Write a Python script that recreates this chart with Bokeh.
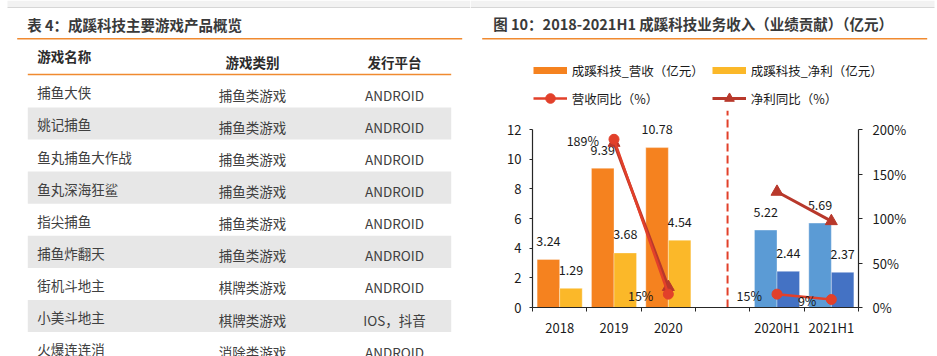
import numpy as np
from bokeh.plotting import figure
from bokeh.models import (Range1d, LinearAxis, FixedTicker, PrintfTickFormatter,
                          Legend, LegendItem)
from bokeh.layouts import row, column
from bokeh.core.properties import value
from bokeh.embed import file_html
from bokeh.resources import INLINE

FONT = "Noto Sans CJK SC"

# ---------------- table data ----------------
table_title = "表 4：成蹊科技主要游戏产品概览"
table_headers = ["游戏名称", "游戏类别", "发行平台"]
game_names = ["捕鱼大侠", "姚记捕鱼", "鱼丸捕鱼大作战", "鱼丸深海狂鲨", "指尖捕鱼",
              "捕鱼炸翻天", "街机斗地主", "小美斗地主", "火爆连连消"]
game_types = ["捕鱼类游戏", "捕鱼类游戏", "捕鱼类游戏", "捕鱼类游戏", "捕鱼类游戏",
              "捕鱼类游戏", "棋牌类游戏", "棋牌类游戏", "消除类游戏"]
game_platforms = ["ANDROID", "ANDROID", "ANDROID", "ANDROID", "ANDROID",
                  "ANDROID", "ANDROID", "IOS，抖音", "ANDROID"]

# ---------------- chart data ----------------
chart_title = "图 10：2018-2021H1 成蹊科技业务收入（业绩贡献）（亿元）"
periods = ["2018", "2019", "2020", "", "2020H1", "2021H1"]
revenue = [3.24, 9.39, 10.78, None, 5.22, 5.69]
net_profit = [1.29, 3.68, 4.54, None, 2.44, 2.37]
revenue_yoy = [None, 189, 15, None, 15, 9]
net_profit_yoy = [None, 185, 23, None, 130, 97]
legend_labels = ["成蹊科技_营收（亿元）", "成蹊科技_净利（亿元）", "营收同比（%）", "净利同比（%）"]
left_ticks = [0, 2, 4, 6, 8, 10, 12]
right_ticks = [0, 50, 100, 150, 200]

# ---------------- styles ----------------
ORANGE = "#F5821F"
YELLOW = "#FBB829"
LBLUE = "#5B9BD5"
DBLUE = "#4472C4"
RED = "#E2402A"
DRED = "#B8382B"
LINE_OR = "#F08A30"
AX = "#262626"
TXT = "#1a1a1a"


def top_band(p, x0, x1):
    p.quad(left=[x0], right=[x1], top=[0], bottom=[6.7], fill_color="#F2F2F2", line_color=None)
    p.segment(x0=[x0], x1=[x1], y0=[7], y1=[7], line_color="#D6D6D6", line_width=1)


def bare(p):
    p.outline_line_color = None
    p.background_fill_color = "white"
    p.border_fill_color = "white"
    p.xgrid.grid_line_color = None
    p.ygrid.grid_line_color = None
    p.xgrid.visible = False
    p.ygrid.visible = False


# ================= left: table =================
tp = figure(width=470, height=356, x_range=Range1d(0, 470), y_range=Range1d(356, 0),
            min_border=0, toolbar_location=None, output_backend="svg",
            x_axis_location=None, y_axis_location=None)
bare(tp)
top_band(tp, 7, 470)

tp.text(x=[26.7], y=[24], text=[table_title], text_font=value(FONT), text_font_size="14.5px",
        text_font_style="bold", text_color="#3a3a3a", text_baseline="middle", text_align="left")
tp.segment(x0=[16.7], x1=[461.7], y0=[38.3], y1=[38.3], line_color=LINE_OR, line_width=1.6)

col_x = [36.7, 252, 394]
col_align = ["left", "center", "center"]
head_y = [55, 61, 61]
for h, cx, al, hy in zip(table_headers, col_x, col_align, head_y):
    tp.text(x=[cx], y=[hy], text=[h], text_font=value(FONT), text_font_size="13.5px",
            text_font_style="bold", text_color="#2b2b2b", text_baseline="middle", text_align=al)
tp.segment(x0=[27.3], x1=[450.7], y0=[74], y1=[74], line_color=LINE_OR, line_width=1.6)

n = len(game_names)
ROW0, ROW_H = 74.8, 32.1
tops = ROW0 + ROW_H * np.arange(n)
odd = np.arange(n) % 2 == 1
tp.quad(left=27.3, right=450.7, top=tops[odd], bottom=tops[odd] + ROW_H,
        fill_color="#E7E7E7", line_color=None)
for col, cx, al, dy in zip([game_names, game_types, game_platforms], col_x, col_align, [17, 19.5, 19.5]):
    tp.text(x=[cx] * n, y=tops + dy, text=col, text_font=value(FONT), text_font_size="13.5px",
            text_color="#404040", text_baseline="middle", text_align=al)

# ================= right: title + legend =================
HEAD_H = 110
hp = figure(width=467, height=HEAD_H, x_range=Range1d(0, 467), y_range=Range1d(HEAD_H, 0),
            min_border=0, toolbar_location=None, output_backend="svg",
            x_axis_location=None, y_axis_location=None)
bare(hp)
top_band(hp, 0, 464)
hp.text(x=[22.7], y=[23.3], text=[chart_title], text_font=value(FONT), text_font_size="14.5px",
        text_font_style="bold", text_color="#3a3a3a", text_baseline="middle", text_align="left")
hp.segment(x0=[11.7], x1=[456.7], y0=[38.3], y1=[38.3], line_color=LINE_OR, line_width=1.6)

# legend proxies: one point placed outside the visible range of this header figure
OFF = [-500]
g_rev = hp.line(x=OFF, y=OFF, line_color=ORANGE, line_width=7)
g_np = hp.line(x=OFF, y=OFF, line_color=YELLOW, line_width=7)
g_rl = hp.line(x=OFF, y=OFF, line_color=RED, line_width=2.5)
g_rs = hp.scatter(x=OFF, y=OFF, marker="circle", fill_color=RED, line_color=RED)
g_nl = hp.line(x=OFF, y=OFF, line_color=DRED, line_width=3)
g_ns = hp.scatter(x=OFF, y=OFF, marker="triangle", fill_color=DRED, line_color=DRED)
legend = Legend(items=[LegendItem(label=legend_labels[0], renderers=[g_rev]),
                       LegendItem(label=legend_labels[1], renderers=[g_np]),
                       LegendItem(label=legend_labels[2], renderers=[g_rl, g_rs]),
                       LegendItem(label=legend_labels[3], renderers=[g_nl, g_ns])],
                location=(62.7, 0), orientation="horizontal", ncols=2,
                glyph_width=34, glyph_height=24, label_standoff=5, label_width=136,
                label_height=20, spacing=4, padding=0, margin=0,
                border_line_alpha=0, background_fill_alpha=0,
                label_text_font=FONT, label_text_font_size="12.5px", label_text_color=TXT)
hp.add_layout(legend)

# ================= right: chart =================
CH_H = 356 - HEAD_H
FRAME_H = CH_H - 49
Y_TOP = FRAME_H / 178.0 * 12
P_TOP = Y_TOP / 12 * 200
cp = figure(width=467, height=CH_H, x_range=Range1d(0, 6), y_range=Range1d(0, Y_TOP),
            min_border_left=62, min_border_right=79, min_border_top=0, min_border_bottom=49,
            toolbar_location=None, output_backend="svg",
            x_axis_location=None, y_axis_location=None)
bare(cp)
cp.extra_y_ranges = {"pct": Range1d(0, P_TOP)}

m = len(periods)
centers = np.arange(m) + 0.5
half = np.array([p.endswith("H1") for p in periods])
has = np.array([v is not None for v in revenue])
BW = 0.415
rev = np.array([np.nan if v is None else v for v in revenue], dtype=float)
npf = np.array([np.nan if v is None else v for v in net_profit], dtype=float)
ryoy = np.array([np.nan if v is None else v for v in revenue_yoy], dtype=float)
nyoy = np.array([np.nan if v is None else v for v in net_profit_yoy], dtype=float)

rev_colors = [LBLUE if h else ORANGE for h in half[has]]
np_colors = [DBLUE if h else YELLOW for h in half[has]]
cp.vbar(x=centers[has] - BW / 2, top=rev[has], width=BW, fill_color=rev_colors,
        line_color="white", line_alpha=0.35, line_width=1)
cp.vbar(x=centers[has] + BW / 2, top=npf[has], width=BW, fill_color=np_colors,
        line_color="white", line_alpha=0.35, line_width=1)

lab_kw = dict(text_font=value(FONT), text_font_size="12.5px", text_color=TXT,
              text_baseline="middle", text_align="center", y_offset=-18.5)
cp.text(x=centers[has] - BW / 2, y=rev[has], text=[f"{v:.2f}" for v in rev[has]], **lab_kw)
cp.text(x=centers[has] + BW / 2, y=npf[has], text=[f"{v:.2f}" for v in npf[has]], **lab_kw)

# separator between annual and half-year data
SEP = 3.59
cp.segment(x0=[SEP], x1=[SEP], y0=[0], y1=[Y_TOP], line_color=RED, line_width=2, line_dash="8 4")

# yoy lines
cp.line(x=centers, y=nyoy, y_range_name="pct", line_color=DRED, line_width=3)
cp.scatter(x=centers, y=nyoy, y_range_name="pct", marker="triangle", size=12,
           fill_color=DRED, line_color=DRED)
cp.line(x=centers, y=ryoy, y_range_name="pct", line_color=RED, line_width=2.5)
cp.scatter(x=centers, y=ryoy, y_range_name="pct", marker="circle", size=10,
           fill_color=RED, line_color=RED)
okr = ~np.isnan(ryoy)
cp.text(x=centers[okr], y=ryoy[okr], text=[f"{v:.0f}%" for v in ryoy[okr]], y_range_name="pct",
        text_font=value(FONT), text_font_size="12.5px", text_color=TXT,
        text_baseline="middle", text_align="right", x_offset=-15, y_offset=1)


# axes
def style_axis(ax):
    ax.axis_line_color = AX
    ax.axis_line_width = 1.2
    ax.major_tick_line_color = AX
    ax.minor_tick_line_color = AX
    ax.major_tick_in = 0
    ax.minor_tick_in = 0
    ax.minor_tick_out = 0
    ax.major_label_text_font = FONT
    ax.major_label_text_font_size = "13px"
    ax.major_label_text_color = TXT


yl = LinearAxis(bounds=(0, 12), ticker=FixedTicker(ticks=left_ticks))
style_axis(yl)
yl.major_tick_out = 3
yl.major_label_standoff = 8
cp.add_layout(yl, "left")

yr = LinearAxis(y_range_name="pct", bounds=(0, 200), ticker=FixedTicker(ticks=right_ticks),
                formatter=PrintfTickFormatter(format="%d%%"))
style_axis(yr)
yr.major_tick_out = 4
yr.major_label_standoff = 10
cp.add_layout(yr, "right")

lab_idx = [i for i in range(m) if periods[i]]
xb = LinearAxis(ticker=FixedTicker(ticks=[float(centers[i]) for i in lab_idx],
                                   minor_ticks=[float(v) for v in range(m + 1)]),
                major_label_overrides={float(centers[i]): periods[i] for i in lab_idx})
style_axis(xb)
xb.major_tick_out = 0
xb.minor_tick_out = 4
xb.major_label_standoff = 6
cp.add_layout(xb, "below")

layout = row(tp, column(hp, row(cp)))
open("out.html", "w").write(file_html(layout, INLINE))
